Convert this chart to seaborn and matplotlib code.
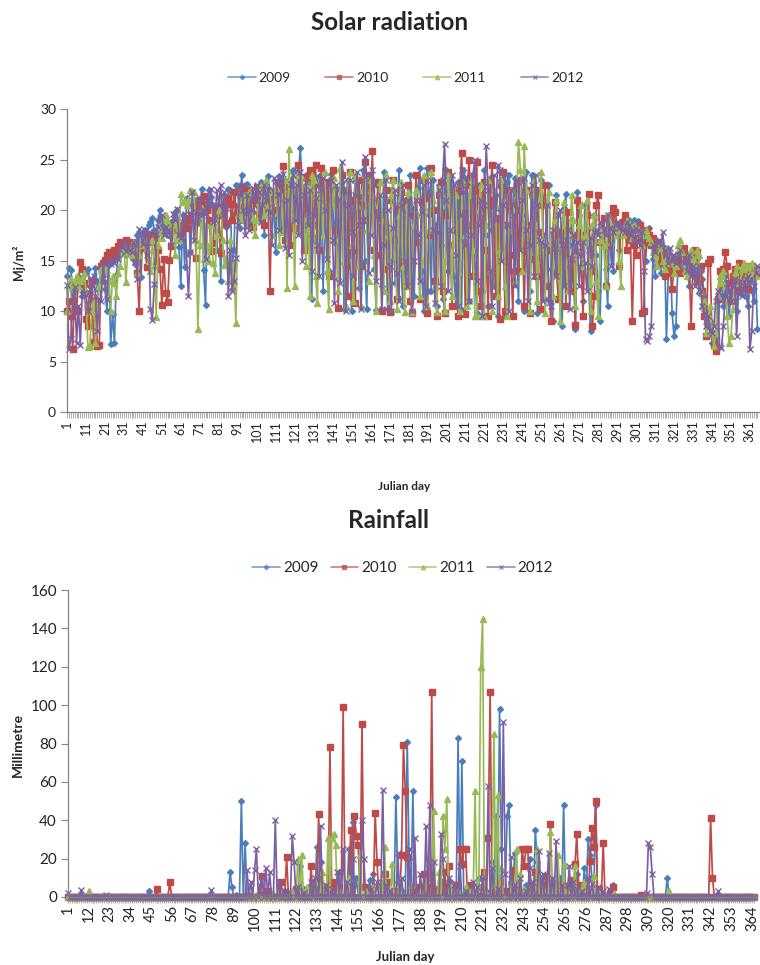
import numpy as np
import pandas as pd
import matplotlib
matplotlib.use("Agg")
import matplotlib.pyplot as plt
import seaborn as sns
from matplotlib.ticker import FixedLocator

# ---------------- data ----------------
years = ["2009", "2010", "2011", "2012"]

solar_2009 = [
    13.5,14.3,14.1,12.0,10.5,12.8,13.5,13.0,11.5,12.5,
    13.8,14.2,12.5,11.0,13.2,14.3,12.2,13.0,14.0,13.5,
    12.2,10.0,14.6,6.7,9.7,6.8,13.6,15.3,15.5,15.8,
    16.0,15.5,16.8,16.2,16.5,15.2,14.7,17.5,16.0,13.4,
    17.8,18.0,17.2,18.5,18.8,19.2,18.0,17.5,19.0,20.0,
    17.6,18.3,18.0,17.5,17.5,18.8,18.2,19.8,20.0,16.3,
    12.5,19.5,14.4,21.2,20.5,15.8,19.0,20.5,21.0,18.7,
    20.2,22.1,14.1,10.6,20.8,22.0,21.3,20.5,19.6,16.0,
    20.5,13.0,19.2,21.5,18.3,22.1,22.0,14.1,16.0,22.5,
    22.4,18.2,23.5,21.5,20.8,22.6,21.0,18.5,19.8,21.2,
    20.5,19.0,22.8,21.6,17.5,20.2,23.4,22.0,19.2,21.8,
    15.8,22.5,23.4,18.2,21.0,22.9,17.8,23.0,20.3,24.0,
    21.5,19.5,23.8,26.1,22.0,18.0,23.5,16.5,22.5,11.2,
    21.8,22.5,17.0,23.4,21.0,12.0,19.5,22.8,14.0,23.6,
    20.5,16.8,22.0,13.2,19.0,22.8,10.2,21.5,23.0,15.5,
    10.0,20.8,22.9,17.5,12.3,21.5,24.0,15.0,10.2,19.5,
    23.2,21.0,14.2,10.1,22.5,20.0,12.5,23.8,18.5,10.2,
    15.0,22.0,21.5,12.8,19.5,24.0,15.8,10.5,21.0,18.2,
    13.0,23.5,20.2,11.5,17.8,22.2,24.2,14.0,10.0,21.8,
    24.2,19.5,12.0,23.0,18.5,10.5,22.5,16.5,11.2,24.1,
    20.0,14.0,23.5,22.0,13.5,10.5,22.8,17.0,10.1,24.0,
    23.2,15.5,11.0,21.0,23.5,14.5,9.8,22.5,20.0,12.0,
    24.0,17.5,10.5,23.2,18.0,12.5,21.5,9.5,20.0,23.0,
    16.2,9.5,22.8,23.5,14.0,20.5,23.2,16.0,11.0,22.0,
    19.5,10.0,23.8,18.5,12.0,23.5,21.0,15.2,9.8,21.5,
    23.0,17.5,11.2,20.5,22.5,14.2,9.0,18.2,21.5,13.5,
    17.5,8.5,20.2,21.6,12.0,16.5,19.0,13.2,8.2,21.8,
    19.5,14.5,11.0,20.5,18.0,12.5,8.0,17.2,19.5,15.5,
    12.0,9.0,17.8,19.2,14.2,10.5,18.5,17.0,14.0,18.8,
    18.5,16.0,18.6,19.0,18.8,18.9,19.0,18.7,18.5,19.0,
    18.8,18.9,18.5,18.0,17.2,15.0,17.5,18.2,16.8,15.2,
    13.5,15.8,16.5,13.8,15.0,16.2,7.2,14.0,15.5,9.8,
    7.5,8.5,14.5,15.0,13.8,14.5,15.2,14.0,12.5,13.8,
    14.8,13.5,15.2,11.8,14.0,13.2,11.5,10.0,8.5,9.0,
    6.8,7.2,6.3,6.4,11.5,12.8,10.5,13.5,12.0,9.5,
    11.5,13.2,12.8,10.0,12.5,11.8,13.0,12.2,11.5,10.5,
    13.0,12.0,11.0,13.5,8.2,
]

solar_2010 = [
    10.0,11.0,9.5,6.2,12.6,10.0,12.9,14.9,14.2,12.8,
    9.2,8.5,10.0,13.0,6.9,11.0,6.5,6.6,14.5,14.8,
    15.1,15.5,15.8,15.2,15.5,16.0,15.7,16.4,16.8,16.2,
    16.5,17.0,16.6,16.2,16.8,16.0,15.4,13.8,10.0,16.2,
    16.5,16.6,14.4,17.2,17.5,16.8,17.2,15.0,16.0,14.2,
    10.6,15.2,11.8,10.9,15.1,16.4,18.2,18.4,18.0,17.6,
    17.8,18.5,18.3,19.0,18.2,19.2,19.5,19.8,15.3,20.4,
    21.0,19.8,21.4,20.5,20.0,19.0,15.9,16.7,19.8,20.2,
    19.6,15.7,19.8,20.5,18.7,21.2,20.6,19.0,21.8,19.5,
    20.4,19.5,22.2,21.0,19.8,20.5,22.0,21.5,18.3,20.8,
    22.3,19.5,21.0,20.0,18.5,22.0,20.8,12.0,21.5,20.0,
    21.5,20.0,22.8,19.5,24.4,17.0,21.5,22.3,16.5,20.0,
    18.2,20.5,24.5,22.2,18.5,16.0,23.3,20.0,24.0,17.2,
    22.8,24.5,18.5,16.0,24.2,21.0,19.0,22.8,13.5,21.0,
    24.0,22.0,18.0,10.3,20.5,23.5,22.0,14.5,11.5,23.8,
    21.0,16.0,10.8,21.5,23.0,14.5,20.5,24.8,19.0,23.5,
    21.2,25.8,16.0,20.0,22.8,15.5,10.0,18.5,22.0,14.2,
    9.9,21.0,23.0,17.0,11.2,20.2,21.8,14.8,12.5,20.8,
    22.5,11.0,9.8,19.5,23.5,16.8,11.2,20.8,23.0,21.2,
    9.8,17.5,24.2,20.0,13.0,9.5,21.5,22.8,12.0,9.8,
    19.5,23.8,16.5,10.5,21.8,18.0,9.5,22.0,25.6,19.8,
    9.7,22.5,25.0,18.5,13.5,22.0,24.8,12.0,10.5,21.5,
    22.8,16.0,9.5,20.5,24.5,21.0,11.5,19.2,9.2,22.5,
    23.8,10.0,18.5,22.0,15.5,9.5,20.0,22.5,14.0,23.0,
    21.5,10.5,22.0,18.5,9.8,21.5,15.2,13.5,22.0,17.8,
    10.2,20.5,22.5,16.0,12.5,9.0,17.5,20.8,13.8,11.2,
    14.5,17.8,16.5,10.5,19.8,15.2,12.0,17.5,8.6,21.0,
    20.5,15.8,9.5,17.5,19.5,21.6,14.0,8.5,11.5,20.5,
    21.5,16.8,18.0,19.2,12.5,16.5,18.8,19.5,20.2,19.8,
    18.5,14.5,18.2,18.8,19.5,16.0,17.8,17.0,9.0,16.5,
    15.5,17.2,18.5,9.8,10.0,16.8,18.0,17.5,16.5,17.2,
    16.8,15.5,16.0,14.8,15.5,13.5,15.8,14.5,13.8,12.2,
    14.2,15.0,15.5,13.8,14.8,16.2,15.5,15.0,14.5,8.5,
    15.2,16.0,15.8,13.0,14.5,12.0,9.5,7.5,14.8,15.2,
    7.8,6.6,6.0,11.2,14.0,12.5,14.2,15.8,14.5,12.8,
    11.0,13.5,14.2,12.0,14.8,13.2,12.5,14.5,13.8,12.2,
    14.0,14.5,13.5,14.2,13.8,
]

solar_2011 = [
    10.0,12.5,13.2,11.8,12.8,13.5,12.5,13.0,13.3,13.8,
    12.0,6.4,6.5,10.0,11.0,6.8,10.8,12.5,14.2,14.0,
    14.2,14.1,13.0,10.0,13.5,12.8,11.5,13.8,14.5,16.0,
    16.5,12.9,15.8,16.2,15.5,16.8,16.2,13.8,15.5,17.2,
    16.5,17.0,16.2,15.0,14.0,17.0,14.5,9.4,16.5,18.0,
    17.2,19.0,19.5,18.8,18.2,17.8,18.5,15.5,18.8,17.0,
    21.6,20.8,20.9,20.5,21.0,22.0,21.9,21.8,17.0,8.2,
    16.5,20.2,15.2,18.5,16.5,15.0,18.5,14.8,13.8,17.5,
    20.0,21.2,17.0,14.6,15.3,13.0,17.0,12.3,14.8,8.8,
    19.5,21.0,19.0,20.2,21.5,18.5,21.8,22.0,19.2,17.5,
    19.0,20.8,22.5,21.0,19.5,23.0,20.5,21.8,17.5,21.0,
    22.2,19.8,16.5,21.5,17.8,23.0,12.3,26.0,19.5,22.0,
    12.5,23.5,21.0,17.8,23.2,19.0,14.5,22.5,11.5,23.5,
    23.0,13.5,10.8,21.5,22.0,17.5,23.8,14.0,10.2,22.5,
    20.5,23.2,17.0,12.0,24.2,21.5,15.0,10.5,22.5,23.8,
    16.5,11.0,23.5,20.5,14.5,10.5,22.0,23.5,18.0,13.0,
    23.0,21.5,15.5,10.0,20.5,22.8,19.0,12.0,23.5,17.5,
    11.0,21.5,23.0,15.5,10.2,19.5,22.8,14.5,9.9,20.5,
    21.8,12.5,9.9,18.5,22.0,19.5,11.5,15.0,23.5,20.0,
    10.5,18.0,23.8,21.0,12.5,9.9,22.2,20.5,15.0,10.0,
    21.5,23.5,18.0,11.5,22.5,21.5,14.0,10.0,20.5,22.8,
    17.5,10.5,21.5,23.0,16.0,9.5,9.5,20.0,22.5,9.5,
    9.5,18.5,23.0,14.0,10.0,22.0,20.5,11.5,16.0,23.0,
    21.5,12.5,9.5,18.0,22.0,20.0,13.0,21.5,26.7,24.0,
    14.0,26.3,22.0,15.5,10.0,21.5,23.0,18.5,11.0,21.0,
    23.8,16.0,9.8,20.5,21.8,17.0,11.5,19.0,21.0,16.5,
    9.0,18.5,20.8,15.0,12.0,17.5,21.5,19.0,10.5,16.0,
    18.5,20.5,14.5,17.5,21.0,15.0,10.0,18.5,19.5,13.0,
    9.5,17.0,18.2,16.5,12.5,19.5,18.8,16.8,18.5,17.5,
    18.0,15.0,12.5,17.5,18.5,19.0,18.8,18.5,17.2,18.5,
    18.0,18.2,17.5,16.5,17.8,18.0,17.5,17.2,16.8,15.8,
    15.5,14.5,16.2,16.8,15.0,14.2,16.0,15.5,14.8,15.0,
    13.8,14.5,16.5,17.0,15.8,14.8,14.0,13.5,15.5,16.0,
    15.2,14.8,16.0,15.5,12.0,10.5,11.0,7.8,9.2,10.5,
    8.0,6.5,7.8,11.5,13.5,12.8,14.0,12.5,9.5,6.8,
    7.5,10.2,13.8,14.5,12.8,13.0,14.2,14.8,13.5,14.5,
    13.8,14.8,14.0,13.5,14.2,
]

solar_2012 = [
    12.6,6.2,7.2,11.5,12.4,6.8,10.5,6.6,11.7,11.8,
    11.6,10.0,12.2,13.2,13.5,11.5,8.0,11.2,11.0,14.8,
    13.0,11.2,15.0,14.7,15.0,14.8,15.4,15.2,16.0,16.3,
    16.8,15.9,16.2,16.0,15.8,16.8,16.5,13.2,18.1,17.5,
    16.6,18.0,15.5,17.8,10.2,9.1,12.7,17.6,18.3,19.2,
    19.5,17.5,18.3,18.0,17.8,16.5,19.6,19.0,20.1,17.5,
    17.2,18.8,19.6,15.5,11.5,15.8,21.8,17.0,19.8,19.2,
    21.2,19.5,20.0,15.2,21.0,20.5,22.1,18.8,19.0,22.0,
    20.5,22.5,19.5,21.8,20.2,11.5,16.0,12.0,13.0,15.3,
    18.5,21.5,22.5,20.0,17.5,21.5,18.0,20.0,22.2,21.0,
    22.5,21.8,18.8,20.5,22.5,21.0,22.0,19.8,16.5,23.2,
    22.9,21.5,18.0,22.8,23.6,16.2,21.0,15.5,22.6,23.5,
    19.0,22.5,17.5,23.8,15.0,21.5,22.8,18.5,22.0,14.0,
    19.5,21.2,16.5,13.5,22.0,23.2,20.0,15.2,22.5,23.0,
    17.0,10.8,22.5,21.0,12.8,24.8,22.0,10.0,20.5,23.0,
    17.8,13.5,21.5,23.8,18.5,10.2,19.0,25.3,23.5,13.8,
    17.5,24.0,22.5,13.0,19.5,21.5,10.2,16.5,23.0,20.0,
    14.5,10.0,18.2,22.0,13.8,11.0,20.5,22.5,15.0,12.5,
    21.0,19.5,10.0,15.0,21.0,17.5,13.0,19.8,22.5,10.5,
    12.0,21.5,23.0,18.0,10.8,17.8,22.0,12.5,23.0,26.5,
    21.0,12.0,18.0,23.5,22.5,15.5,10.5,19.5,24.0,21.8,
    16.5,22.8,11.0,17.5,23.5,25.0,13.0,18.5,21.0,9.5,
    20.5,26.3,22.0,14.0,10.5,23.5,19.0,24.5,24.0,15.0,
    20.5,23.5,18.5,10.0,22.0,19.5,12.5,23.0,22.8,16.0,
    21.0,23.2,18.0,11.0,16.5,22.5,13.5,23.5,20.5,17.0,
    16.8,11.0,16.5,20.5,10.8,10.5,18.0,16.2,13.5,19.5,
    20.0,16.5,12.5,17.0,18.0,10.2,15.2,17.5,15.8,16.8,
    12.5,15.5,16.8,14.8,12.0,16.0,17.2,14.5,17.8,18.0,
    17.5,18.8,18.5,18.0,17.5,19.5,18.2,14.5,17.8,18.5,
    18.8,18.2,18.5,18.0,17.8,18.8,18.5,17.5,18.0,16.8,
    18.2,18.0,16.5,17.8,14.0,7.2,7.0,7.5,8.5,16.5,
    15.8,16.8,17.0,16.5,17.8,16.0,15.5,14.8,16.2,15.0,
    15.5,14.8,15.5,16.0,15.0,14.8,15.2,14.0,15.5,13.5,
    14.5,12.5,13.8,14.5,12.0,10.5,9.8,8.5,9.5,8.0,
    7.8,8.5,11.0,12.0,6.5,6.3,8.5,11.5,12.8,12.0,
    11.0,12.5,13.2,7.5,12.0,13.0,11.5,12.5,13.2,13.5,
    6.2,8.0,12.5,13.8,14.5,
]

# Rainfall: days with rain (all other days are 0 mm)
rain_2009_days = [44, 87, 88, 90, 93, 95, 97, 103, 116, 118, 124, 126, 131, 133, 135, 137, 143, 145, 150, 152,
                  154, 159, 161, 163, 167, 170, 175, 176, 178, 181, 182, 184, 186, 190, 192, 196, 201, 204, 208, 210,
                  213, 216, 219, 223, 226, 228, 230, 231, 234, 235, 236, 238, 241, 244, 246, 249, 250, 252, 255, 258,
                  262, 264, 266, 269, 271, 273, 275, 277, 278, 279, 281, 283, 290, 319]
rain_2009_mm = [3, 13, 5, 1, 50, 28, 1, 2, 3, 2, 16, 4, 8, 26, 18, 4, 6, 13, 25, 39,
                10, 2, 9, 12, 3, 6, 52, 8, 3, 81, 20, 55, 4, 12, 6, 3, 5, 8, 83, 71,
                4, 2, 10, 3, 18, 42, 98, 25, 42, 48, 8, 23, 3, 6, 20, 35, 18, 5, 8, 2,
                10, 48, 6, 3, 12, 5, 15, 30, 22, 10, 48, 3, 6, 10]

rain_2010_days = [48, 55, 104, 107, 114, 117, 122, 127, 130, 134, 138, 140, 142, 145, 147, 149, 151, 153, 154, 155,
                  157, 158, 160, 164, 165, 167, 169, 171, 174, 178, 179, 180, 181, 184, 187, 190, 194, 196, 199, 201,
                  203, 206, 209, 210, 211, 212, 215, 219, 222, 224, 225, 227, 230, 233, 237, 240, 242, 243, 244, 245,
                  249, 251, 254, 257, 259, 262, 265, 268, 270, 271, 272, 274, 278, 279, 280, 281, 283, 285, 289, 290,
                  305, 342, 343]
rain_2010_mm = [4, 8, 11, 3, 8, 21, 4, 3, 16, 43, 5, 78, 8, 5, 99, 3, 35, 42, 32, 27,
                90, 5, 4, 44, 18, 4, 12, 8, 3, 22, 79, 55, 21, 3, 5, 12, 107, 4, 8, 13,
                16, 6, 25, 17, 25, 25, 6, 3, 13, 31, 107, 4, 8, 3, 14, 6, 25, 16, 25, 25,
                13, 5, 11, 38, 5, 7, 4, 9, 17, 33, 6, 3, 19, 36, 26, 50, 4, 28, 3, 5,
                1, 41, 10]

rain_2011_days = [12, 101, 110, 120, 123, 125, 128, 132, 135, 136, 139, 141, 142, 143, 146, 150, 156, 159, 163, 167,
                  169, 171, 173, 177, 183, 188, 191, 195, 198, 200, 201, 202, 205, 209, 212, 215, 217, 219, 220, 221,
                  223, 226, 227, 229, 231, 236, 239, 241, 243, 247, 250, 252, 255, 257, 259, 261, 264, 266, 270, 273,
                  275, 280, 283, 291, 320]
rain_2011_mm = [3, 1, 2, 3, 20, 22, 5, 8, 4, 13, 31, 31, 33, 27, 3, 10, 22, 3, 5, 8,
                26, 4, 17, 10, 6, 3, 9, 45, 13, 42, 25, 51, 6, 2, 5, 3, 55, 4, 120, 145,
                2, 6, 85, 53, 15, 8, 25, 12, 4, 6, 25, 10, 4, 34, 8, 22, 17, 3, 16, 4,
                8, 11, 2, 2, 3]

rain_2012_days = [1, 8, 21, 77, 96, 98, 100, 101, 103, 104, 106, 108, 111, 113, 116, 120, 121, 123, 126, 130,
                  132, 135, 138, 141, 144, 147, 149, 152, 157, 158, 162, 165, 168, 170, 172, 176, 178, 182, 185, 188,
                  191, 193, 195, 199, 200, 203, 206, 209, 212, 216, 218, 221, 224, 226, 229, 232, 233, 236, 238, 241,
                  244, 246, 248, 251, 253, 256, 258, 260, 263, 267, 269, 271, 274, 277, 279, 282, 285, 288, 308, 309,
                  310, 311, 346]
rain_2012_mm = [2, 3.5, 1, 3.5, 14, 8, 14, 25, 6, 10, 15, 13, 40, 8, 3, 32, 18, 5, 2, 8,
                10, 37, 6, 4, 13, 25, 8, 20, 40, 20, 4, 8, 56, 6, 3, 23, 10, 25, 31, 12,
                37, 48, 18, 33, 20, 10, 6, 16, 3, 8, 5, 10, 58, 15, 4, 91, 12, 21, 6, 10,
                3, 15, 8, 24, 12, 23, 10, 29, 6, 16, 8, 4, 3, 10, 7, 5, 3, 4, 2, 28,
                26, 12, 3]

solar_xticklabels = [1, 11, 21, 31, 41, 51, 61, 71, 81, 91, 101, 111, 121, 131, 141, 151, 161, 171, 181,
                     191, 201, 211, 221, 231, 241, 251, 261, 271, 281, 291, 301, 311, 321, 331, 341, 351, 361]
rain_xticklabels = [1, 12, 23, 34, 45, 56, 67, 78, 89, 100, 111, 122, 133, 144, 155, 166, 177, 188, 199,
                    210, 221, 232, 243, 254, 265, 276, 287, 298, 309, 320, 331, 342, 353, 364]
solar_yticks = [0, 5, 10, 15, 20, 25, 30]
rain_yticks = [0, 20, 40, 60, 80, 100, 120, 140, 160]

# ---------------- tables ----------------
solar = {"2009": solar_2009, "2010": solar_2010, "2011": solar_2011, "2012": solar_2012}
rain_events = {"2009": (rain_2009_days, rain_2009_mm), "2010": (rain_2010_days, rain_2010_mm),
               "2011": (rain_2011_days, rain_2011_mm), "2012": (rain_2012_days, rain_2012_mm)}

N_DAYS = 365
solar_df = pd.concat([pd.DataFrame({"day": np.arange(1, len(v) + 1), "value": v, "year": y})
                      for y, v in solar.items()], ignore_index=True)
rain_frames = []
for y, (d, mm) in rain_events.items():
    s = pd.Series(0.0, index=np.arange(1, N_DAYS + 1))
    s.loc[d] = mm
    rain_frames.append(pd.DataFrame({"day": s.index, "value": s.values, "year": y}))
rain_df = pd.concat(rain_frames, ignore_index=True)

# ---------------- style ----------------
sns.set_style("white")
FONT = ["Lato", "DejaVu Sans"]
plt.rcParams["font.family"] = FONT
colors = {"2009": "#4A7EBB", "2010": "#BE4B48", "2011": "#98B954", "2012": "#7D60A0"}
markers = {"2009": "D", "2010": "s", "2011": "^", "2012": "x"}
msizes = {"2009": 3.0, "2010": 4.6, "2011": 4.2, "2012": 4.4}
GRAY = "#868686"

fig = plt.figure(figsize=(7.6, 9.65), dpi=100)
ax1 = fig.add_axes([0.0882, 0.573, 0.911, 0.314])
ax2 = fig.add_axes([0.0895, 0.0705, 0.905, 0.318])


def draw(ax, df):
    for y in years:
        sub = df[df["year"] == y]
        sns.lineplot(data=sub, x="day", y="value", ax=ax, color=colors[y], marker=markers[y],
                     markersize=msizes[y], markeredgecolor=colors[y], markerfacecolor=colors[y],
                     markeredgewidth=1.0, lw=1.25, label=y, estimator=None, sort=False, clip_on=False)


def style_axis(ax, xticklabels, yticks, xfs, yfs):
    ax.set_xlim(1, N_DAYS + 1)
    ax.set_ylim(yticks[0], yticks[-1])
    ax.set_yticks(yticks)
    ax.set_yticklabels([str(v) for v in yticks], fontsize=yfs, color="#222222")
    ax.xaxis.set_major_locator(FixedLocator(xticklabels))
    ax.set_xticklabels([str(v) for v in xticklabels], rotation=90, fontsize=xfs, color="#222222")
    ax.xaxis.set_minor_locator(FixedLocator(np.arange(1, N_DAYS + 1)))
    ax.tick_params(axis="x", which="both", length=4, width=0.6, color="#A0A0A0", bottom=True, pad=2)
    ax.tick_params(axis="y", which="major", length=5, width=0.8, color=GRAY, left=True, pad=3)
    for sp in ["top", "right"]:
        ax.spines[sp].set_visible(False)
    for sp in ["left", "bottom"]:
        ax.spines[sp].set_color(GRAY)
        ax.spines[sp].set_linewidth(0.9)
    ax.set_xlabel("")
    ax.set_ylabel("")
    ax.get_legend().remove()


draw(ax1, solar_df)
style_axis(ax1, solar_xticklabels, solar_yticks, 9, 10)
draw(ax2, rain_df)
style_axis(ax2, rain_xticklabels, rain_yticks, 10.5, 11)


def soften(leg):
    for h in leg.legend_handles:
        h.set_alpha(0.7)


handles, labels = ax1.get_legend_handles_labels()
leg1 = fig.legend(handles, labels, loc="center", bbox_to_anchor=(0.534, 1 - 78 / 965), ncol=4, frameon=False,
                  fontsize=10, handlelength=2.0, columnspacing=2.5, handletextpad=0.2, markerscale=0.75)
soften(leg1)
handles2, labels2 = ax2.get_legend_handles_labels()
leg2 = fig.legend(handles2, labels2, loc="center", bbox_to_anchor=(0.530, 1 - 568 / 965), ncol=4, frameon=False,
                  fontsize=11, handlelength=1.8, columnspacing=0.8, handletextpad=0.2, markerscale=0.75)
soften(leg2)

fig.text(0.512, 1 - 22 / 965, "Solar radiation", ha="center", va="center", fontsize=17.5, fontweight="bold")
fig.text(0.511, 1 - 520 / 965, "Rainfall", ha="center", va="center", fontsize=17.5, fontweight="bold")
fig.text(0.532, 1 - 487 / 965, "Julian day", ha="center", va="center", fontsize=8.5, fontweight="bold")
fig.text(0.533, 1 - 957 / 965, "Julian day", ha="center", va="center", fontsize=9.5, fontweight="bold")
fig.text(18 / 760, 1 - 262 / 965, "Mj/m²", ha="center", va="center", rotation=90, fontsize=9,
         fontweight="bold")
fig.text(18 / 760, 1 - 745 / 965, "Millimetre", ha="center", va="center", rotation=90, fontsize=10,
         fontweight="bold")

fig.savefig("out.png", dpi=100)
